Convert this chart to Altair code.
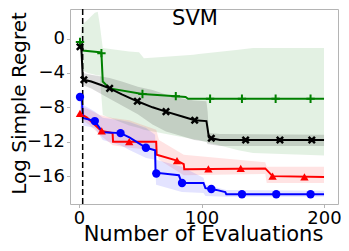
import altair as alt
import pandas as pd

# ---------------- data ----------------
series_names = ["green", "black", "red", "blue"]
series_colors = ["#008000", "#000000", "#ff0000", "#0000ff"]

# mean curves
green_x = [0.8, 2, 3, 17, 18.3, 19.4, 25, 51.8, 79, 87, 89, 200]
green_y = [-0.4, -0.9, -1.4, -1.6, -1.7, -5.0, -5.8, -6.45, -6.7, -6.8, -7.0, -7.0]
black_x = [0.8, 2, 3, 4, 10, 18, 25, 35, 47.6, 60, 71, 85, 94.4, 104, 105, 106, 108, 115, 200]
black_y = [-0.95, -1.3, -4.4, -4.8, -5.0, -5.4, -5.8, -6.5, -7.3, -8.0, -8.5, -9.1, -9.5, -9.6, -10.5, -11.5, -11.6, -11.8, -11.8]
red_x = [0.8, 6.5, 18.5, 27.4, 27.8, 63, 63.4, 80, 85.5, 85.9, 152, 158, 200]
red_y = [-8.7, -9.2, -10.75, -11.0, -12.0, -12.0, -13.5, -14.2, -14.6, -15.2, -15.1, -16.0, -16.1]
blue_x = [0.8, 2.4, 3.2, 12.9, 19.4, 33.9, 41.1, 54.8, 62.1, 62.5, 81.5, 83.9, 101.6, 103.2, 108, 112, 119.4, 120.2, 200]
blue_y = [-6.8, -7.2, -9.25, -9.6, -10.9, -11.0, -11.5, -12.7, -13.0, -15.6, -15.9, -16.8, -16.8, -17.4, -17.5, -17.6, -17.85, -18.1, -18.1]

# markers
green_mx = [0.8, 18.3, 51.8, 79, 107, 133, 160.5, 189]
green_my = [-0.4, -1.7, -6.45, -6.7, -7.0, -7.0, -7.0, -7.0]
black_mx = [0.8, 4, 25, 47.6, 71, 94.4, 108, 136, 164, 190]
black_my = [-0.95, -4.8, -5.8, -7.3, -8.5, -9.5, -11.6, -11.8, -11.8, -11.8]
red_mx = [0.8, 18.5, 41, 80, 105.6, 132, 158, 184]
red_my = [-8.7, -10.75, -12.0, -14.2, -15.15, -15.1, -16.0, -16.1]
blue_mx = [0.8, 12.9, 33.9, 54.6, 63.1, 84.1, 108, 133, 161, 189]
blue_my = [-6.8, -9.6, -11.0, -12.7, -15.7, -16.8, -17.5, -18.1, -18.1, -18.1]

# uncertainty bands
green_bx = [0.8, 2.4, 7.3, 12.9, 15.3, 17, 19.4, 41, 49, 53, 93.5, 97.6, 130, 142, 200]
green_hi = [-0.3, 1.6, 2.2, 3.0, 3.1, 1.6, -1.1, -1.5, -1.6, -2.3, -1.9, -1.8, -1.3, -1.1, -1.1]
green_lo = [-0.8, -3.7, -4.0, -4.2, -4.3, -4.3, -8.9, -10.1, -10.4, -10.6, -11.7, -11.8, -13.0, -13.3, -13.6]
black_bx = [0.8, 2, 3, 10, 25, 35, 48, 60, 71, 85, 94, 104, 105, 106, 115, 200]
black_hi = [-0.5, -0.8, -4.0, -4.2, -4.6, -5.0, -5.6, -6.0, -6.5, -7.0, -7.2, -7.3, -8.5, -11.0, -11.1, -11.2]
black_lo = [-1.4, -2.0, -5.4, -5.8, -7.0, -7.8, -8.8, -10.0, -10.8, -11.4, -11.8, -12.0, -12.3, -12.3, -12.5, -12.5]
red_bx = [0.8, 9, 17, 27.4, 41, 63, 65.3, 85.5, 152, 153.2, 200]
red_hi = [-7.85, -8.3, -8.9, -9.25, -9.5, -10.6, -11.8, -13.5, -14.4, -14.9, -14.9]
red_lo = [-9.25, -10.1, -11.2, -12.4, -12.7, -13.0, -14.1, -15.9, -15.75, -16.8, -16.8]
blue_bx = [0.8, 3.2, 12.9, 19.4, 33.9, 41.1, 54.8, 62.1, 62.9, 83.9, 101.6, 103.2, 120.2, 200]
blue_hi = [-6.2, -7.7, -8.5, -9.2, -9.5, -9.7, -10.4, -11.2, -14.1, -14.9, -16.2, -17.0, -17.6, -17.7]
blue_lo = [-7.4, -10.1, -10.4, -11.8, -12.4, -12.97, -13.9, -14.1, -17.0, -17.85, -17.97, -18.3, -18.4, -18.4]

x_ticks = [0, 100, 200]
y_ticks = [-16, -12, -8, -4, 0]
init_x = 3
title_text = "SVM"

# ---------------- tables ----------------
lines = pd.concat([
    pd.DataFrame({"s": n, "x": xs, "y": ys})
    for n, xs, ys in [("green", green_x, green_y), ("black", black_x, black_y),
                      ("red", red_x, red_y), ("blue", blue_x, blue_y)]
])
marks = pd.concat([
    pd.DataFrame({"s": n, "x": xs, "y": ys})
    for n, xs, ys in [("green", green_mx, green_my), ("black", black_mx, black_my),
                      ("red", red_mx, red_my), ("blue", blue_mx, blue_my)]
])
bands = pd.concat([
    pd.DataFrame({"s": n, "x": xs, "lo": lo, "hi": hi})
    for n, xs, lo, hi in [("green", green_bx, green_lo, green_hi), ("black", black_bx, black_lo, black_hi),
                          ("red", red_bx, red_lo, red_hi), ("blue", blue_bx, blue_lo, blue_hi)]
])

xs = alt.Scale(domain=[-7.35, 211.4], nice=False, zero=False)
ys = alt.Scale(domain=[-19.24, 3.43], nice=False, zero=False)
col = alt.Color("s:N", scale=alt.Scale(domain=series_names, range=series_colors), legend=None)

x_axis = alt.Axis(values=x_ticks, title="Number of Evaluations", titleFontSize=21,
                  labelFontSize=18, titleX=133, titleY=36, titleBaseline="alphabetic",
                  titleAlign="center", tickSize=3.5, tickColor="#b4b4b4", domain=False,
                  grid=False, labelColor="black", titleColor="black", titleFontWeight="normal",
                  labelFlush=False, labelPadding=2)
y_axis = alt.Axis(values=y_ticks, title="Log Simple Regret", titleFontSize=20,
                  labelFontSize=18, titleAngle=270, titleX=-44.5, titleY=94,
                  titleBaseline="alphabetic", titleAlign="center", tickSize=3.5,
                  tickColor="#b4b4b4", domain=False, grid=False, labelColor="black",
                  titleColor="black", titleFontWeight="normal", labelPadding=2)

band_layers = [
    alt.Chart(bands).transform_filter(alt.datum.s == n).mark_area(
        opacity=(0.14 if n == "black" else 0.11)).encode(
        x=alt.X("x:Q", scale=xs, axis=x_axis),
        y=alt.Y("hi:Q", scale=ys, axis=y_axis),
        y2="lo:Q",
        color=col)
    for n in series_names
]

line_layer = alt.Chart(lines).mark_line(strokeWidth=2).encode(
    x=alt.X("x:Q", scale=xs), y=alt.Y("y:Q", scale=ys), color=col, detail="s:N",
    order="x:Q")

plus_path = "M-1,0L1,0M0,-1L0,1"
cross_path = "M-1,-1L1,1M-1,1L1,-1"
m_green = alt.Chart(marks).transform_filter(alt.datum.s == "green").mark_point(
    shape=plus_path, filled=False, size=70, strokeWidth=2, opacity=1).encode(
    x=alt.X("x:Q", scale=xs), y=alt.Y("y:Q", scale=ys), color=col)
m_black = alt.Chart(marks).transform_filter(alt.datum.s == "black").mark_point(
    shape=cross_path, filled=False, size=40, strokeWidth=2.5, opacity=1).encode(
    x=alt.X("x:Q", scale=xs), y=alt.Y("y:Q", scale=ys), color=col)
m_red = alt.Chart(marks).transform_filter(alt.datum.s == "red").mark_point(
    shape="triangle-up", filled=True, size=70, opacity=1).encode(
    x=alt.X("x:Q", scale=xs), y=alt.Y("y:Q", scale=ys), color=col)
m_blue = alt.Chart(marks).transform_filter(alt.datum.s == "blue").mark_point(
    shape="circle", filled=True, size=70, opacity=1).encode(
    x=alt.X("x:Q", scale=xs), y=alt.Y("y:Q", scale=ys), color=col)

rule = alt.Chart(pd.DataFrame({"x": [init_x]})).mark_rule(
    color="black", strokeDash=[6, 3], strokeWidth=1.5).encode(x=alt.X("x:Q", scale=xs))

title = alt.Chart(pd.DataFrame({"t": [title_text]})).mark_text(
    fontSize=21, font="DejaVu Sans", color="black", align="center",
    baseline="alphabetic").encode(text="t:N", x=alt.value(125), y=alt.value(16))

chart = alt.layer(*band_layers, line_layer, rule, m_green, m_black, m_red, m_blue, title).properties(
    width=268, height=195,
    autosize=alt.AutoSizeParams(type="none"),
    padding={"left": 62, "top": 1, "right": 3, "bottom": 39},
).configure(font="DejaVu Sans").configure_view(stroke="#b4b4b4", strokeWidth=1)

chart.save("out.html", embed_options={"renderer": "svg", "actions": False})
